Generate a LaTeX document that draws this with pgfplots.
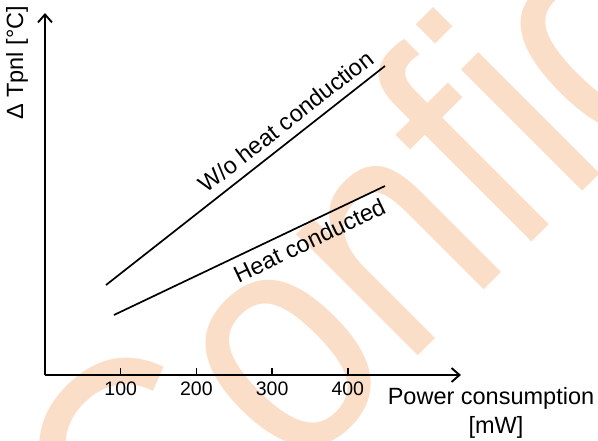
\documentclass[border=0pt]{standalone}
\usepackage{fontspec}
\setmainfont{Liberation Sans}
\newfontfamily\wmfont[FakeStretch=0.86]{Liberation Sans}
\usepackage{pgfplots}
\pgfplotsset{compat=1.18}
\usetikzlibrary{arrows.meta}
\definecolor{wm}{RGB}{251,222,200}
\begin{document}
\begin{tikzpicture}
\useasboundingbox (-45bp,-66bp) rectangle (553bp,375bp);
\node[rotate=45, anchor=base west, inner sep=0pt, text=wm, font=\wmfont\fontsize{325bp}{325bp}\selectfont] at (106.5bp,-247.5bp) {Confidential};
\begin{axis}[
  anchor=origin, at={(0,0)},
  x=0.757bp, y=1bp,
  xmin=0, xmax=549.5, ymin=0, ymax=362,
  axis lines=left,
  axis line style={line width=1.9bp, -{Straight Barb[length=8bp,width=14bp]}},
  xtick={100,200,300,400},
  ytick=\empty,
  tick align=inside,
  major tick length=7bp,
  every tick/.style={black, line width=1.4bp},
  xticklabel style={font=\fontsize{19.5bp}{23bp}\selectfont, yshift=-3.5bp},
  /pgf/number format/assume math mode=true,
  clip=false,
]
\addplot[black, line width=1.7bp] coordinates {(80.6,90) (449.1,309)};
\addplot[black, line width=1.7bp] coordinates {(91.1,60) (449.1,189)};
\end{axis}
\begin{scope}[every node/.style={inner sep=0pt, font=\fontsize{23.5bp}{28bp}\selectfont}]
\node[rotate=38, anchor=base] at (246bp,247bp) {W/o heat conduction};
\node[rotate=25.5, anchor=base] at (268bp,127bp) {Heat conducted};
\node[rotate=90, anchor=base west] at (-22bp,255bp) {Δ Tpnl [°C]};
\node[anchor=base] at (446bp,-29bp) {Power consumption};
\node[anchor=base] at (451bp,-58bp) {[mW]};
\end{scope}
\end{tikzpicture}
\end{document}
